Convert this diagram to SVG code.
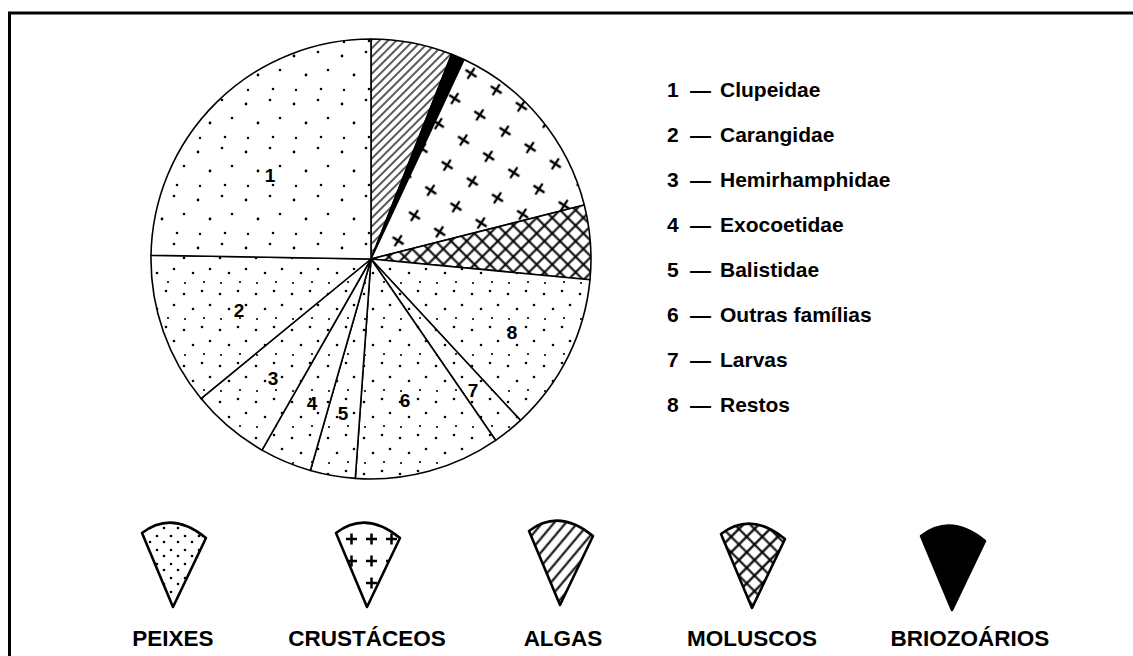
<svg xmlns="http://www.w3.org/2000/svg" width="1133" height="656" viewBox="0 0 1133 656">
<style>
.slice{stroke:#000;stroke-width:1.6;stroke-linejoin:round}
.lbl{font-family:"Liberation Sans",Arial,sans-serif;font-weight:bold;fill:#000}
.num{font-size:19px;text-anchor:middle}
.leg{font-size:21px}
.cap{font-size:22.5px;text-anchor:middle}
.icon{stroke:#000;stroke-width:2.6;stroke-linejoin:round}
</style>
<defs>
<pattern id="dots" patternUnits="userSpaceOnUse" width="36" height="36">
<rect width="36" height="36" fill="#fff"/>
<g fill="#000"><circle cx="4" cy="6" r="1.3"/><circle cx="22" cy="3" r="1.3"/><circle cx="13" cy="21" r="1.3"/><circle cx="30" cy="17" r="1.3"/><circle cx="5" cy="31" r="1.1"/><circle cx="24" cy="30" r="1.1"/></g>
</pattern>
<pattern id="dotsS" patternUnits="userSpaceOnUse" width="48" height="48">
<rect width="48" height="48" fill="#fff"/>
<g fill="#000"><circle cx="6" cy="8" r="1.4"/><circle cx="30" cy="4" r="1.3"/><circle cx="18" cy="27" r="1.4"/><circle cx="40" cy="22" r="1.3"/><circle cx="8" cy="42" r="1.2"/><circle cx="33" cy="41" r="1.3"/></g>
</pattern>
<pattern id="cross" patternUnits="userSpaceOnUse" width="30" height="30" patternTransform="rotate(33)">
<rect width="30" height="30" fill="#fff"/>
<path d="M8.5 15h13M15 8.5v13" stroke="#000" stroke-width="2.3"/>
</pattern>
<pattern id="hatch" patternUnits="userSpaceOnUse" width="6" height="6" patternTransform="rotate(-45)">
<rect width="6" height="6" fill="#fff"/>
<path d="M0 3h6" stroke="#000" stroke-width="1.3"/>
</pattern>
<pattern id="xhatch" patternUnits="userSpaceOnUse" width="11" height="11" patternTransform="rotate(45)">
<rect width="11" height="11" fill="#fff"/>
<path d="M0 5.5h11M5.5 0v11" stroke="#000" stroke-width="2"/>
</pattern>
<pattern id="icross" patternUnits="userSpaceOnUse" width="20" height="22" patternTransform="translate(2 0)">
<rect width="20" height="22" fill="#fff"/>
<path d="M4 11h11M9.5 5.5v11" stroke="#000" stroke-width="2.5"/>
</pattern>
<pattern id="ihatch" patternUnits="userSpaceOnUse" width="9" height="9" patternTransform="rotate(-50)">
<rect width="9" height="9" fill="#fff"/>
<path d="M0 4.5h9" stroke="#000" stroke-width="2"/>
</pattern>
<pattern id="ixhatch" patternUnits="userSpaceOnUse" width="11" height="11" patternTransform="rotate(45)">
<rect width="11" height="11" fill="#fff"/>
<path d="M0 5.5h11M5.5 0v11" stroke="#000" stroke-width="2.2"/>
</pattern>
<pattern id="idots" patternUnits="userSpaceOnUse" width="14" height="14">
<rect width="14" height="14" fill="#fff"/>
<g fill="#000"><circle cx="3" cy="4" r="1.3"/><circle cx="10" cy="10" r="1.3"/></g>
</pattern>
</defs>
<rect width="1133" height="656" fill="#fff"/>
<g id="frame" fill="none" stroke="#000" stroke-width="3">
<path d="M9.5 656V13H1133"/>
</g>
<g id="pie">
<g id="slice-algas"><path class="slice" fill="url(#hatch)" d="M371 259L371 39A220 220 0 0 1 451.6 54.3Z"/></g>
<g id="slice-briozoarios"><path class="slice" fill="#000" d="M371 259L451.6 54.3A220 220 0 0 1 464 59.6Z"/></g>
<g id="slice-crustaceos"><path class="slice" fill="url(#cross)" d="M371 259L464 59.6A220 220 0 0 1 584.3 205Z"/></g>
<g id="slice-moluscos"><path class="slice" fill="url(#xhatch)" d="M371 259L584.3 205A220 220 0 0 1 590 279.7Z"/></g>
<g id="slice-8"><path class="slice" fill="url(#dots)" d="M371 259L590 279.7A220 220 0 0 1 520.5 420.4Z"/></g>
<g id="slice-7"><path class="slice" fill="url(#dots)" d="M371 259L520.5 420.4A220 220 0 0 1 495.6 440.3Z"/></g>
<g id="slice-6"><path class="slice" fill="url(#dots)" d="M371 259L495.6 440.3A220 220 0 0 1 355.3 478.4Z"/></g>
<g id="slice-5"><path class="slice" fill="url(#dots)" d="M371 259L355.3 478.4A220 220 0 0 1 310.4 470.5Z"/></g>
<g id="slice-4"><path class="slice" fill="url(#dots)" d="M371 259L310.4 470.5A220 220 0 0 1 262 450.1Z"/></g>
<g id="slice-3"><path class="slice" fill="url(#dots)" d="M371 259L262 450.1A220 220 0 0 1 201 398.6Z"/></g>
<g id="slice-2"><path class="slice" fill="url(#dots)" d="M371 259L201 398.6A220 220 0 0 1 151 255.2Z"/></g>
<g id="slice-1"><path class="slice" fill="url(#dotsS)" d="M371 259L151 255.2A220 220 0 0 1 371 39Z"/></g>
<g class="lbl num">
<text x="270" y="182">1</text>
<text x="239" y="317">2</text>
<text x="273" y="385">3</text>
<text x="312" y="410">4</text>
<text x="343" y="420">5</text>
<text x="405" y="407">6</text>
<text x="473" y="397">7</text>
<text x="512" y="339">8</text>
</g>
</g>
<g id="legend-families" class="lbl leg">
<text y="97"><tspan x="667">1</tspan><tspan x="690">—</tspan><tspan x="720">Clupeidae</tspan></text>
<text y="142"><tspan x="667">2</tspan><tspan x="690">—</tspan><tspan x="720">Carangidae</tspan></text>
<text y="187"><tspan x="667">3</tspan><tspan x="690">—</tspan><tspan x="720">Hemirhamphidae</tspan></text>
<text y="232"><tspan x="667">4</tspan><tspan x="690">—</tspan><tspan x="720">Exocoetidae</tspan></text>
<text y="277"><tspan x="667">5</tspan><tspan x="690">—</tspan><tspan x="720">Balistidae</tspan></text>
<text y="322"><tspan x="667">6</tspan><tspan x="690">—</tspan><tspan x="720">Outras famílias</tspan></text>
<text y="367"><tspan x="667">7</tspan><tspan x="690">—</tspan><tspan x="720">Larvas</tspan></text>
<text y="412"><tspan x="667">8</tspan><tspan x="690">—</tspan><tspan x="720">Restos</tspan></text>
</g>
<g id="key-peixes">
<path class="icon" fill="url(#idots)" d="M173 607L142 533Q172 510 206 538Z"/>
<text class="lbl cap" x="173" y="646">PEIXES</text>
</g>
<g id="key-crustaceos">
<path class="icon" fill="url(#icross)" d="M367 607L336 533Q366 510 400 538Z"/>
<text class="lbl cap" x="367" y="646">CRUSTÁCEOS</text>
</g>
<g id="key-algas">
<path class="icon" fill="url(#ihatch)" d="M560 605L529 531Q559 508 593 536Z"/>
<text class="lbl cap" x="563" y="646">ALGAS</text>
</g>
<g id="key-moluscos">
<path class="icon" fill="url(#ixhatch)" d="M752 608L721 534Q751 511 785 539Z"/>
<text class="lbl cap" x="752" y="646">MOLUSCOS</text>
</g>
<g id="key-briozoarios">
<path class="icon" fill="#000" d="M952 610L921 536Q951 513 985 541Z"/>
<text class="lbl cap" x="970" y="646">BRIOZOÁRIOS</text>
</g>
</svg>
